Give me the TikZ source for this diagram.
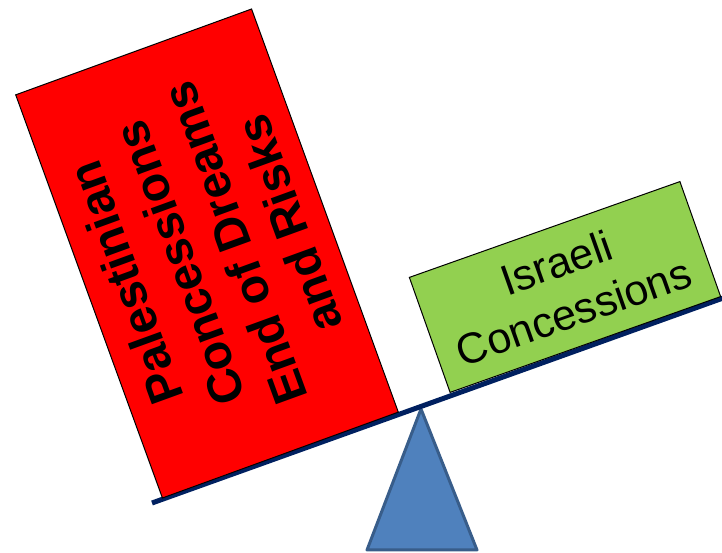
\documentclass[tikz,border=0pt]{standalone}
\usepackage{fontspec}
\setmainfont{Liberation Sans}
\definecolor{beamblue}{HTML}{002060}
\definecolor{pivotfill}{HTML}{4F81BD}
\definecolor{pivotline}{HTML}{385D8A}
\definecolor{israeligreen}{HTML}{92D050}
\begin{document}
\begin{tikzpicture}[x=1pt, y=1pt,
weight/.style = {draw=black, line width=1pt, align=center, inner sep=0pt},
beam/.style = {draw=beamblue, line width=5pt}
                        ]
\useasboundingbox (0,0) rectangle (722,553);
% pivot
\coordinate (top) at (421,144);
\coordinate (bl) at (367,3);
\coordinate (br) at (477,3);
\filldraw[fill=pivotfill, draw=pivotline, line width=3pt, line join=round] (top) -- (bl) -- (br) -- cycle;
% plank
\coordinate (beamL) at (152,50);
\coordinate (beamR) at (724,255.3);
\draw[beam] (beamL) -- (beamR);
\node (pal) [weight, fill=red, rotate=110, minimum width=429pt, minimum height=251pt,
  font=\fontsize{48}{58}\selectfont\bfseries] at (207,299.5)
  {Palestinian\\Concessions\\End of Dreams\\and Risks};
\node (isr) [weight, fill=israeligreen, rotate=19.5, minimum width=287pt, minimum height=122pt,
  font=\fontsize{43}{52}\selectfont] at (565,266)
  {Israeli\\Concessions};
\end{tikzpicture}
\end{document}
